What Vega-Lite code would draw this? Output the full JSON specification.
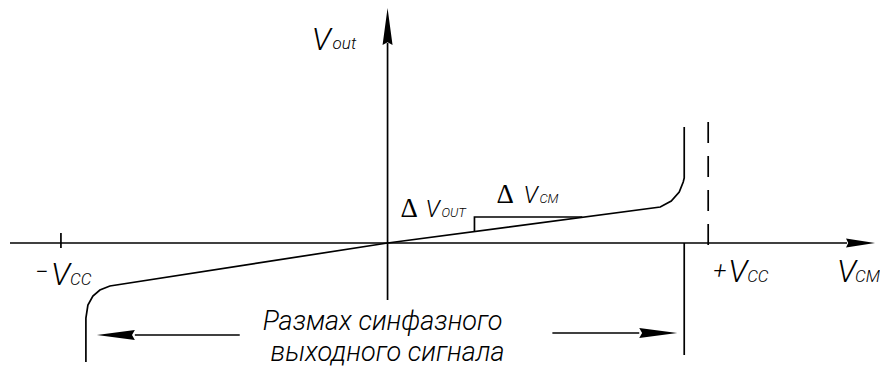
{
  "$schema": "https://vega.github.io/schema/vega-lite/v6.json",
  "width": 880,
  "height": 376,
  "padding": 0,
  "autosize": {"type": "fit", "contains": "padding"},
  "background": "white",
  "config": {"view": {"stroke": null}},
  "datasets": {
    "lines": [
      {"seg": "hx", "i": 0, "x": -378, "y": 0},
      {"seg": "hx", "i": 1, "x": 460, "y": 0},
      {"seg": "vy", "i": 0, "x": 0, "y": -57},
      {"seg": "vy", "i": 1, "x": 0, "y": 200},
      {"seg": "curve", "i": 0, "x": -302, "y": -119},
      {"seg": "curve", "i": 1, "x": -302, "y": -75},
      {"seg": "curve", "i": 2, "x": -300, "y": -62},
      {"seg": "curve", "i": 3, "x": -295, "y": -53},
      {"seg": "curve", "i": 4, "x": -288, "y": -47},
      {"seg": "curve", "i": 5, "x": -278, "y": -43},
      {"seg": "curve", "i": 6, "x": 0, "y": 0},
      {"seg": "curve", "i": 7, "x": 273, "y": 36},
      {"seg": "curve", "i": 8, "x": 284, "y": 42},
      {"seg": "curve", "i": 9, "x": 292, "y": 51},
      {"seg": "curve", "i": 10, "x": 296, "y": 61},
      {"seg": "curve", "i": 11, "x": 297, "y": 65},
      {"seg": "curve", "i": 12, "x": 297, "y": 116},
      {"seg": "r", "i": 0, "x": 297, "y": 0},
      {"seg": "r", "i": 1, "x": 297, "y": -112},
      {"seg": "tick", "i": 0, "x": -327, "y": 10},
      {"seg": "tick", "i": 1, "x": -327, "y": -5},
      {"seg": "step", "i": 0, "x": 87, "y": 11},
      {"seg": "step", "i": 1, "x": 87, "y": 26},
      {"seg": "step", "i": 2, "x": 195, "y": 26},
      {"seg": "al", "i": 0, "x": -253, "y": -92},
      {"seg": "al", "i": 1, "x": -148, "y": -92},
      {"seg": "ar", "i": 0, "x": 165, "y": -90},
      {"seg": "ar", "i": 1, "x": 252, "y": -90}
    ],
    "dashed": [
      {"x": 321, "y": 121},
      {"x": 321, "y": -5}
    ],
    "arrows": [
      {"dir": "up", "x": 0, "y": 216.5},
      {"dir": "right", "x": 473.5, "y": 0},
      {"dir": "left", "x": -272, "y": -92},
      {"dir": "right2", "x": 271, "y": -90}
    ],
    "labels": [
      {"kind": "big", "t": "V", "x": -76, "y": 193},
      {"kind": "sign", "t": "−", "x": -353, "y": -37},
      {"kind": "big", "t": "V", "x": -337, "y": -42},
      {"kind": "sign", "t": "+", "x": 326, "y": -36},
      {"kind": "big", "t": "V", "x": 341, "y": -39},
      {"kind": "big", "t": "V", "x": 450, "y": -39},
      {"kind": "sub", "t": "out", "x": -55, "y": 194},
      {"kind": "sub", "t": "CC", "x": -318, "y": -42},
      {"kind": "sub", "t": "CC", "x": 360, "y": -39},
      {"kind": "sub", "t": "CM", "x": 468, "y": -39},
      {"kind": "delta", "t": "Δ", "x": 13, "y": 26},
      {"kind": "delta", "t": "Δ", "x": 109, "y": 40},
      {"kind": "mid", "t": "V", "x": 38, "y": 26},
      {"kind": "mid", "t": "V", "x": 136, "y": 40},
      {"kind": "small", "t": "OUT", "x": 54, "y": 26},
      {"kind": "small", "t": "CM", "x": 152, "y": 40},
      {"kind": "caption", "t": "Размах синфазного", "x": -5, "y": -87},
      {"kind": "caption", "t": "выходного сигнала", "x": 0, "y": -118}
    ]
  },
  "encoding": {
    "x": {"field": "x", "type": "quantitative", "axis": null, "scale": {"domain": [-388, 492], "nice": false, "zero": false}},
    "y": {"field": "y", "type": "quantitative", "axis": null, "scale": {"domain": [-133, 243], "nice": false, "zero": false}}
  },
  "layer": [
    {
      "data": {"name": "lines"},
      "mark": {"type": "line", "color": "#000", "strokeWidth": 1.7, "interpolate": "linear"},
      "encoding": {"detail": {"field": "seg"}, "order": {"field": "i", "type": "quantitative"}}
    },
    {
      "data": {"name": "dashed"},
      "mark": {"type": "line", "color": "#000", "strokeWidth": 1.7, "strokeDash": [21, 13]},
      "encoding": {}
    },
    {
      "data": {"name": "arrows"},
      "transform": [{"filter": "datum.dir === 'up'"}],
      "mark": {"type": "point", "filled": true, "color": "#000", "opacity": 1, "size": 1369, "shape": "M0,-1L0.27,1L0,0.85L-0.27,1Z"}
    },
    {
      "data": {"name": "arrows"},
      "transform": [{"filter": "datum.dir === 'right'"}],
      "mark": {"type": "point", "filled": true, "color": "#000", "opacity": 1, "size": 841, "shape": "M1,0L-1,0.31L-0.85,0L-1,-0.31Z"}
    },
    {
      "data": {"name": "arrows"},
      "transform": [{"filter": "datum.dir === 'right2'"}],
      "mark": {"type": "point", "filled": true, "color": "#000", "opacity": 1, "size": 1444, "shape": "M1,0L-1,0.26L-0.85,0L-1,-0.26Z"}
    },
    {
      "data": {"name": "arrows"},
      "transform": [{"filter": "datum.dir === 'left'"}],
      "mark": {"type": "point", "filled": true, "color": "#000", "opacity": 1, "size": 1444, "shape": "M-1,0L1,0.26L0.85,0L1,-0.26Z"}
    },
    {
      "data": {"name": "labels"},
      "transform": [{"filter": "datum.kind === 'big'"}],
      "mark": {"type": "text", "align": "left", "baseline": "alphabetic", "font": "Roboto", "fontWeight": 300, "fontStyle": "italic", "fontSize": 32, "color": "#000"},
      "encoding": {"text": {"field": "t"}}
    },
    {
      "data": {"name": "labels"},
      "transform": [{"filter": "datum.kind === 'sign'"}],
      "mark": {"type": "text", "align": "left", "baseline": "alphabetic", "font": "Roboto", "fontWeight": 300, "fontStyle": "italic", "fontSize": 24, "color": "#000"},
      "encoding": {"text": {"field": "t"}}
    },
    {
      "data": {"name": "labels"},
      "transform": [{"filter": "datum.kind === 'sub'"}],
      "mark": {"type": "text", "align": "left", "baseline": "alphabetic", "font": "Roboto", "fontWeight": 300, "fontStyle": "italic", "fontSize": 17, "color": "#000"},
      "encoding": {"text": {"field": "t"}}
    },
    {
      "data": {"name": "labels"},
      "transform": [{"filter": "datum.kind === 'delta'"}],
      "mark": {"type": "text", "align": "left", "baseline": "alphabetic", "font": "Liberation Serif", "fontSize": 27, "color": "#000"},
      "encoding": {"text": {"field": "t"}}
    },
    {
      "data": {"name": "labels"},
      "transform": [{"filter": "datum.kind === 'mid'"}],
      "mark": {"type": "text", "align": "left", "baseline": "alphabetic", "font": "Roboto", "fontWeight": 300, "fontStyle": "italic", "fontSize": 24, "color": "#000"},
      "encoding": {"text": {"field": "t"}}
    },
    {
      "data": {"name": "labels"},
      "transform": [{"filter": "datum.kind === 'small'"}],
      "mark": {"type": "text", "align": "left", "baseline": "alphabetic", "font": "Roboto", "fontWeight": 300, "fontStyle": "italic", "fontSize": 13, "color": "#000"},
      "encoding": {"text": {"field": "t"}}
    },
    {
      "data": {"name": "labels"},
      "transform": [{"filter": "datum.kind === 'caption'"}],
      "mark": {"type": "text", "align": "center", "baseline": "alphabetic", "font": "Roboto", "fontWeight": 300, "fontStyle": "italic", "fontSize": 27, "color": "#000"},
      "encoding": {"text": {"field": "t"}}
    }
  ]
}
